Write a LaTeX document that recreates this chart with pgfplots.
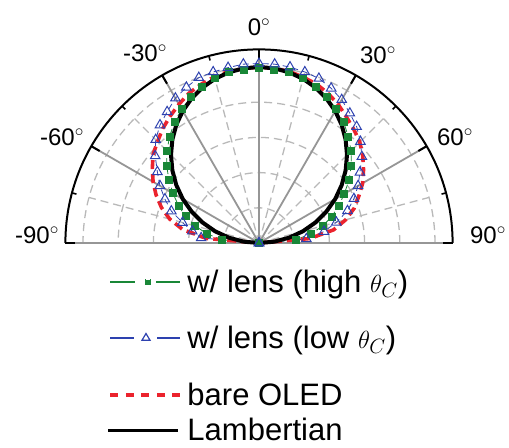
\documentclass[border=0pt]{standalone}
\usepackage{fontspec}
\setmainfont{Liberation Sans}
\usepackage{pgfplots}
\usepackage{pgfplotstable}
\pgfplotsset{compat=1.18}
\definecolor{cgreen}{RGB}{25,135,55}
\definecolor{cblue}{RGB}{45,65,175}
\definecolor{cred}{RGB}{235,35,45}
\definecolor{gspoke}{RGB}{150,150,150}
\definecolor{gdash}{RGB}{185,185,185}

% phi = polar angle (0 = +90 deg on the chart, 180 = -90 deg on the chart)
\pgfplotstableread{
phi red blue green lamb
0   0     0     0     0
5   0.29  0.27  0.21  0.0872
10  0.43  0.375 0.30  0.1736
15  0.51  0.455 0.375 0.2588
20  0.575 0.535 0.44  0.3420
25  0.625 0.595 0.50  0.4226
30  0.68  0.65  0.56  0.5
35  0.725 0.70  0.625 0.5736
40  0.77  0.763 0.685 0.6428
45  0.81  0.815 0.74  0.7071
50  0.84  0.863 0.79  0.7660
55  0.87  0.90  0.838 0.8192
60  0.905 0.94  0.878 0.8660
65  0.935 0.97  0.915 0.9063
70  0.96  0.995 0.945 0.9397
75  0.975 1.006 0.97  0.9659
80  0.99  1.015 0.985 0.9848
85  0.995 1.02  0.99  0.9962
90  1.0   1.02  0.995 1.0
95  0.995 1.02  0.99  0.9962
100 0.99  1.012 0.985 0.9848
105 0.978 1.006 0.97  0.9659
110 0.96  1.0   0.945 0.9397
115 0.94  0.976 0.915 0.9063
120 0.91  0.95  0.878 0.8660
125 0.88  0.91  0.838 0.8192
130 0.85  0.875 0.79  0.7660
135 0.815 0.83  0.74  0.7071
140 0.785 0.77  0.685 0.6428
145 0.74  0.705 0.625 0.5736
150 0.695 0.65  0.565 0.5
155 0.645 0.59  0.505 0.4226
160 0.59  0.53  0.445 0.3420
165 0.525 0.45  0.375 0.2588
170 0.44  0.385 0.30  0.1736
175 0.30  0.33  0.21  0.0872
180 0     0     0     0
}\polardata

\begin{document}
\begin{tikzpicture}
% ---- polar grid ----
\foreach \r in {35.2,70.4,105.6,140.8,176}{
  \draw[gdash, line width=1.3bp, dash pattern=on 8bp off 5bp] (\r bp,0) arc[start angle=0,end angle=180,radius=\r bp];
}
\foreach \a in {15,45,75,105,135,165}{
  \draw[gdash, line width=1.3bp, dash pattern=on 8bp off 5bp] (0,0) -- (\a:176bp);
}
\foreach \a in {30,60,90,120,150}{
  \draw[gspoke, line width=1.8bp] (0,0) -- (\a:193.6bp);
}
\draw[gspoke, line width=2.4bp] (-193.6bp,0) -- (193.6bp,0);
\draw[black, line width=2bp] (193.6bp,0) arc[start angle=0,end angle=180,radius=193.6bp];
\foreach \a in {0,30,...,180}{\draw[black,line width=2bp] (\a:193.6bp) -- (\a:184bp);}
\foreach \a in {15,45,...,165}{\draw[black,line width=1.6bp] (\a:193.6bp) -- (\a:189bp);}
% ---- angle labels ----
\begin{scope}[every node/.style={font=\fontsize{24bp}{28bp}\selectfont, inner sep=0pt}]
\node at (0bp,216bp) {0$^{\circ}$};
\node at (-114bp,190bp) {-30$^{\circ}$};
\node at (119bp,188bp) {30$^{\circ}$};
\node at (-197bp,106bp) {-60$^{\circ}$};
\node at (196bp,106bp) {60$^{\circ}$};
\node at (-222bp,8bp) {-90$^{\circ}$};
\node at (229bp,8bp) {90$^{\circ}$};
\end{scope}

\begin{axis}[
  at={(0,0)}, anchor=origin,
  x=176bp, y=176bp,
  xmin=-1.15, xmax=1.15, ymin=-0.05, ymax=1.15,
  hide axis, clip=false,
  legend style={
    at={(axis description cs:0.1245,-0.0767)}, anchor=north west,
    draw=none, fill=none, inner sep=0pt, outer sep=0pt,
    row sep=0pt, column sep=0pt,
    font=\fontsize{31bp}{37bp}\selectfont,
    nodes={inner sep=0pt, outer sep=0pt},
    cells={anchor=base west},
  },
]
\addplot[cgreen, line width=0.8bp, dash pattern=on 6bp off 4bp,
  mark=square*, mark size=3.5bp, mark options={solid, fill=cgreen},
  data cs=polar,
  legend image code/.code={
    \path[draw=none, fill=none] (0bp,-32bp) rectangle (77bp,24bp);
    \draw[cgreen, solid, line width=2bp] (0bp,10bp) -- (25bp,10bp);
    \draw[cgreen, solid, line width=2bp] (46bp,10bp) -- (70bp,10bp);
    \fill[cgreen] (34.5bp,7.5bp) rectangle (39.5bp,12.5bp);
  }] table[x=phi, y=green] {\polardata};
\addlegendentry{w/ lens (high $\theta_C$)\rule[-32bp]{0pt}{56bp}}

\addplot[cblue, line width=0.8bp, dash pattern=on 6bp off 4bp,
  mark=triangle, mark size=5.5bp, mark options={solid, line width=1bp},
  data cs=polar,
  legend image code/.code={
    \path[draw=none, fill=none] (0bp,-33bp) rectangle (77bp,24bp);
    \draw[cblue, solid, line width=2bp] (0bp,10bp) -- (24bp,10bp);
    \draw[cblue, solid, line width=2bp] (47bp,10bp) -- (70bp,10bp);
    \draw[cblue, solid, line width=1.2bp] (31.5bp,7.8bp) -- (39.5bp,7.8bp) -- (35.5bp,14.5bp) -- cycle;
  }] table[x=phi, y=blue] {\polardata};
\addlegendentry{w/ lens (low $\theta_C$)\rule[-33bp]{0pt}{57bp}}

\addplot[cred, line width=3.6bp, dash pattern=on 9bp off 5bp, no marks,
  data cs=polar,
  legend image code/.code={
    \path[draw=none, fill=none] (0bp,-11bp) rectangle (77bp,24bp);
    \draw[cred, line width=3.4bp, dash pattern=on 8bp off 7.5bp] (0bp,10bp) -- (70bp,10bp);
  }] table[x=phi, y=red] {\polardata};
\addlegendentry{bare OLED\rule[-11bp]{0pt}{35bp}}

\addplot[black, line width=4bp, solid, no marks,
  data cs=polar,
  legend image code/.code={
    \path[draw=none, fill=none] (0bp,0bp) rectangle (77bp,24bp);
    \draw[black, solid, line width=3bp] (-2bp,10bp) -- (68bp,10bp);
  }] table[x=phi, y=lamb] {\polardata};
\addlegendentry{Lambertian\rule{0pt}{24bp}}
\end{axis}
\pgfresetboundingbox
\useasboundingbox (-259bp,-205bp) rectangle (250bp,243bp);
\end{tikzpicture}
\end{document}
